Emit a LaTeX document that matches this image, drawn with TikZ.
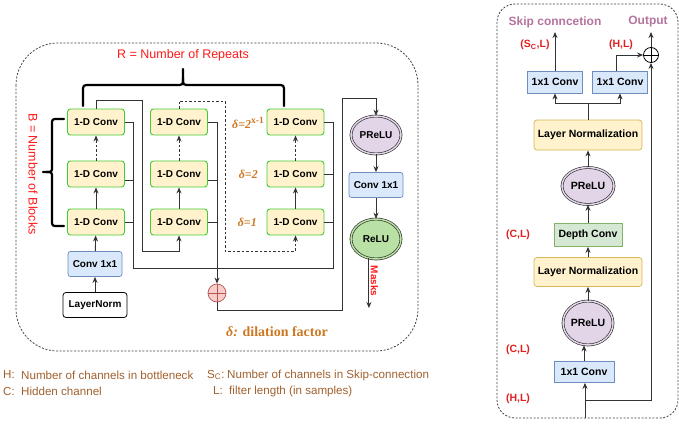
\documentclass[tikz,border=0pt]{standalone}
\usepackage{fontspec}
\setmainfont{Liberation Sans}
\newfontfamily\serifx{Liberation Serif}
\usetikzlibrary{shapes.geometric,arrows.meta,calc}
\definecolor{convfill}{HTML}{FFF2CC}
\definecolor{convgreen}{HTML}{44CC33}
\definecolor{bluefill}{HTML}{DAE8FC}
\definecolor{blueline}{HTML}{6C8EBF}
\definecolor{yelline}{HTML}{D6B656}
\definecolor{dcfill}{HTML}{D5E8D4}
\definecolor{dcline}{HTML}{82B366}
\definecolor{purpfill}{HTML}{E1D5E7}
\definecolor{relufill}{HTML}{B9E0A5}
\definecolor{sumfill}{HTML}{F8CECC}
\definecolor{sumline}{HTML}{B85450}
\definecolor{redtxt}{HTML}{FF1A1A}
\definecolor{redlab}{HTML}{E02020}
\definecolor{orangetxt}{HTML}{CC7722}
\definecolor{browntxt}{HTML}{A0602E}
\definecolor{pinktxt}{HTML}{B5739D}
\definecolor{wirec}{HTML}{333333}
\tikzset{
  boxfont/.style={font=\fontsize{10}{12}\selectfont\bfseries},
  rfont/.style={font=\fontsize{10.5}{12}\selectfont\bfseries},
  conv/.style={draw=convgreen, fill=convfill, line width=0.9pt, rounded corners=3pt,
    minimum width=57pt, minimum height=26pt, inner sep=0pt, boxfont},
  bluebox/.style={draw=blueline, fill=bluefill, line width=0.7pt, rounded corners=2.5pt,
    inner sep=0pt},
  yelbox/.style={draw=yelline, fill=convfill, line width=0.7pt, rounded corners=3pt,
    inner sep=0pt, minimum width=108pt, rfont},
  dcbox/.style={draw=dcline, fill=dcfill, line width=0.7pt, inner sep=0pt, rfont},
  wbox/.style={draw=black, fill=white, line width=0.8pt, rounded corners=3pt, inner sep=0pt, boxfont},
  dell/.style={ellipse, draw=black!85, double=#1, double distance=1.5pt, line width=0.6pt,
    fill=#1, inner sep=0pt},
  wire/.style={draw=wirec, line width=0.9pt},
  arr/.style={wire, -{Stealth[length=6pt,width=5pt]}},
  dsh/.style={dash pattern=on 2.5pt off 2pt},
  bracel/.style={draw=black, line width=2.2pt, line cap=round},
  outline/.style={draw=black!75, line width=0.8pt, dash pattern=on 2pt off 1.6pt},
  dlab/.style={text=orangetxt, font=\serifx\fontsize{12}{14}\selectfont\bfseries\itshape, inner sep=0pt},
  leg/.style={text=browntxt, font=\fontsize{11.6}{13}\selectfont, inner sep=0pt, anchor=west},
  rl/.style={text=redlab, font=\fontsize{10.5}{12}\selectfont\bfseries, inner sep=0pt},
}
\begin{document}
\begin{tikzpicture}[x=1pt,y=-1pt]
\useasboundingbox (0,0) rectangle (679,423);
% outer dashed boxes
\draw[outline, rounded corners=42pt] (16,43) rectangle (418,351);
\draw[outline, rounded corners=18pt] (497,4) rectangle (678,418);

% ---------- left panel ----------
\node[conv] (a1) at (96,122) {1-D Conv};
\node[conv] (a2) at (96,174) {1-D Conv};
\node[conv] (a3) at (96,222) {1-D Conv};
\node[conv] (b1) at (179,122) {1-D Conv};
\node[conv] (b2) at (179,174) {1-D Conv};
\node[conv] (b3) at (179,222) {1-D Conv};
\node[conv] (d1) at (295.5,122) {1-D Conv};
\node[conv] (d2) at (295.5,174) {1-D Conv};
\node[conv] (d3) at (295.5,222) {1-D Conv};
\node[bluebox, boxfont, minimum width=54pt, minimum height=25pt] (cb) at (95,264) {Conv 1x1};
\node[wbox, minimum width=64pt, minimum height=25pt] (lnl) at (95,305) {LayerNorm};

\draw[arr] (lnl) -- (cb);
\draw[arr] (cb) -- (a3);
\draw[arr] (a3) -- (a2);
\draw[arr, dsh] (a2) -- (a1);
\draw[arr] (b3) -- (b2);
\draw[arr, dsh] (b2) -- (b1);
\draw[arr] (d3) -- (d2);
\draw[arr, dsh] (d2) -- (d1);

% residual between repeats
\coordinate (ra) at (142,100);
\coordinate (rb) at (142,251);
\draw[arr] (a1.north) |- (ra) -- (rb) -| (b3.south);
\coordinate (rc) at (225,101);
\coordinate (rd) at (225,251);
\draw[arr, dsh] (b1.north) |- (rc) -- (rd) -| (d3.south);

% skip buses
\coordinate (p1t) at (133,122);
\coordinate (p1b) at (133,268);
\coordinate (p3t) at (333,122);
\coordinate (p3b) at (333,268);
\draw[wire] (a1.east) -- (p1t);
\draw[wire] ([yshift=-6pt]a2.east) -- ++(9,0);
\draw[wire] (a3.east) -- ++(9,0);
\draw[wire] (p1t) -- (p1b) -- (p3b) -- (p3t) -- (d1.east);
\draw[wire] (d2.east) -- ++(8.5,0);
\draw[wire] (d3.east) -- ++(8.5,0);
\node[circle, draw=sumline, fill=sumfill, minimum size=18pt, inner sep=0pt, line width=0.7pt] (sum) at (217,293) {};
\draw[sumline, line width=0.7pt] (sum.north) -- (sum.south) (sum.west) -- (sum.east);
\coordinate (p2t) at (217,122);
\draw[wire] (b1.east) -- (p2t);
\draw[wire] ([yshift=-6pt]b2.east) -- ++(9,0);
\draw[wire] (b3.east) -- ++(9,0);
\draw[arr] (p2t) -- (sum.north);

% output branch
\node[dell=purpfill, minimum width=50pt, minimum height=38pt, boxfont] (pr) at (376,135) {PReLU};
\node[bluebox, boxfont, minimum width=54pt, minimum height=25pt] (cr) at (376,185) {Conv 1x1};
\node[dell=relufill, minimum width=50pt, minimum height=40pt, boxfont] (relu) at (376,239) {ReLU};
\coordinate (s1) at (217,310);
\coordinate (s2) at (342,310);
\coordinate (s3) at (342,98);
\draw[arr] (sum.south) -- (s1) -- (s2) -- (s3) -| (pr.north);
\draw[arr] (pr) -- (cr);
\draw[arr] (cr) -- (relu);
\coordinate (mk) at (367,308);
\draw[arr] (relu.250) -- (relu.250 |- mk);
\node[rotate=-90, text=redtxt, font=\fontsize{10}{12}\selectfont\bfseries, inner sep=0pt] (masks) at (374.5,281) {Masks};

% braces
\draw[bracel] (83,106) -- (83,92) .. controls (83,85) .. (90,85) -- (176,85)
  .. controls (183,85) .. (183,78) -- (183,69);
\draw[bracel] (183,78) .. controls (183,85) .. (190,85) -- (277,85)
  .. controls (284,85) .. (284,92) -- (284,106);
\node[text=redtxt, font=\fontsize{12.5}{14}\selectfont, inner sep=0pt] (rlab) at (183,55) {R = Number of Repeats};
\draw[bracel] (64,119) -- (58,119) .. controls (52,119) .. (52,125) -- (52,166)
  .. controls (52,172) .. (46,172) -- (43,172);
\draw[bracel] (46,172) .. controls (52,172) .. (52,178) -- (52,220)
  .. controls (52,226) .. (58,226) -- (64,226);
\node[rotate=-90, text=redtxt, font=\fontsize{12.5}{14}\selectfont, inner sep=0pt] (blab) at (33,174) {B = Number of Blocks};

% dilation labels
\node[dlab, anchor=east] (dx) at (264,123) {δ=2\raisebox{4.5pt}{\upshape\fontsize{9.5}{10}\selectfont x-1}};
\node[dlab, anchor=east] (dtwo) at (258,174) {δ=2};
\node[dlab, anchor=east] (done) at (257,222) {δ=1};
\node[text=orangetxt, font=\serifx\fontsize{14}{16}\selectfont\bfseries, inner sep=0pt] (dfac) at (277,332) {\itshape δ:\upshape{} dilation factor};

% legend
\node[leg] (lh) at (3,375) {H:};
\node[leg] (lht) at (21,375) {Number of channels in bottleneck};
\node[leg] (lc) at (3,391) {C:};
\node[leg] (lct) at (21,391) {Hidden channel};
\node[leg] (ls) at (207,375) {S\textsubscript{C}:};
\node[leg] (lst) at (227,375) {Number of channels in Skip-connection};
\node[leg] (ll) at (213,391) {L:};
\node[leg] (llt) at (229,391) {filter length (in samples)};

% ---------- right panel ----------
\node[text=pinktxt, font=\fontsize{12}{14}\selectfont\bfseries, inner sep=0pt] (skl) at (555,22) {Skip conncetion};
\node[text=pinktxt, font=\fontsize{12}{14}\selectfont\bfseries, inner sep=0pt] (outl) at (648,22) {Output};
\node[bluebox, rfont, minimum width=55pt, minimum height=22pt, rounded corners=0pt] (sk1) at (555,82) {1x1 Conv};
\node[bluebox, rfont, minimum width=55pt, minimum height=22pt, rounded corners=0pt] (sk2) at (620,82) {1x1 Conv};
\node[circle, draw=black, fill=white, minimum size=15pt, inner sep=0pt, line width=0.8pt] (plus) at (651,55) {};
\draw[black, line width=0.8pt] (plus.north) -- (plus.south) (plus.west) -- (plus.east);
\coordinate (skend) at (555,32);
\coordinate (outend) at (651,32);
\draw[arr] (sk1.north) -- (skend);
\draw[arr] (plus.north) -- (outend);
\draw[arr] ([xshift=-4pt]sk2.north) |- (plus.west);
\node[rl] (scl) at (535,45) {(S\textsubscript{C},L)};
\node[rl] (hl1) at (621,45) {(H,L)};

\node[yelbox, minimum height=30pt] (ln1) at (588,135) {Layer Normalization};
\coordinate (split) at (588,103);
\draw[wire] (ln1.north) -- (split);
\draw[arr] (split) -| (sk1.south);
\draw[arr] (split) -| (sk2.south);
\node[dell=purpfill, minimum width=52pt, minimum height=37pt, rfont] (pr1) at (588,186) {PReLU};
\draw[arr] (pr1) -- (ln1);
\node[dcbox, minimum width=68pt, minimum height=23pt] (dc) at (588,235) {Depth Conv};
\draw[arr] (dc) -- (pr1);
\node[rl] (cl1) at (518,235) {(C,L)};
\node[yelbox, minimum height=29pt] (ln2) at (588,272) {Layer Normalization};
\draw[arr] (ln2) -- (dc);
\node[dell=purpfill, minimum width=50pt, minimum height=44pt, rfont] (pr2) at (588,323) {PReLU};
\draw[arr] (pr2) -- (ln2);
\node[rl] (cl2) at (518,350) {(C,L)};
\node[bluebox, rfont, minimum width=60pt, minimum height=21pt, rounded corners=0pt] (c1) at (584,372) {1x1 Conv};
\draw[arr] (c1.north) -- (c1.north |- pr2.south);
\node[rl] (hl2) at (518,399) {(H,L)};
\coordinate (inp) at (585,418);
\coordinate (rs1) at (585,400);
\coordinate (rs2) at (651,400);
\draw[arr] (inp) -- (c1.south -| inp);
\draw[arr] (rs1) -- (rs2) -- (plus.south);
\end{tikzpicture}
\end{document}
